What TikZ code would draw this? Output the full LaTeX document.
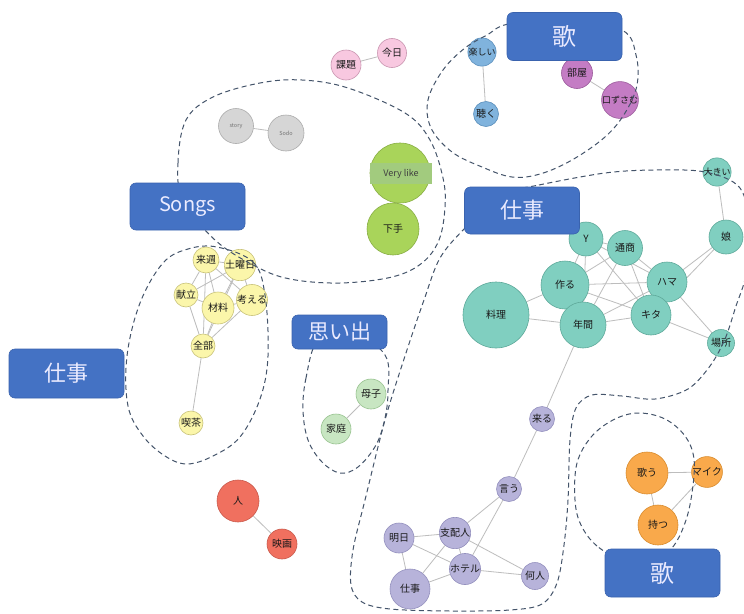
\documentclass[tikz,border=0pt]{standalone}
\usepackage{fontspec}
\setmainfont{Noto Sans CJK JP}
\definecolor{boxblue}{HTML}{4472C4}
\definecolor{boxline}{HTML}{3A63AE}
\definecolor{outc}{HTML}{44546A}
\definecolor{edgec}{HTML}{BDBDBD}
\definecolor{tlf}{HTML}{80CFC0}\definecolor{tld}{HTML}{5EA99A}
\definecolor{prf}{HTML}{B7B3DA}\definecolor{prd}{HTML}{9490BE}
\definecolor{orf}{HTML}{F9A94B}\definecolor{ord}{HTML}{D98C2E}
\definecolor{rdf}{HTML}{F0705F}\definecolor{rdd}{HTML}{C95A4C}
\definecolor{lgf}{HTML}{C8E6C2}\definecolor{lgd}{HTML}{98C390}
\definecolor{ylf}{HTML}{FBF6AA}\definecolor{yld}{HTML}{C9C37A}
\definecolor{pkf}{HTML}{F8C8E0}\definecolor{pkd}{HTML}{C995B0}
\definecolor{gyf}{HTML}{D6D6D6}\definecolor{gyd}{HTML}{ABABAB}
\definecolor{lbf}{HTML}{80B3DD}\definecolor{lbd}{HTML}{5B8FBC}
\definecolor{mgf}{HTML}{C47CC4}\definecolor{mgd}{HTML}{9B5A9B}
\definecolor{grf}{HTML}{A9D45A}\definecolor{grd}{HTML}{88AE44}
\definecolor{bandc}{HTML}{A2CB7E}
\pgfdeclarelayer{edgelayer}
\pgfsetlayers{edgelayer,main}
\begin{document}
\begin{tikzpicture}[x=1pt,y=-1pt,
  nd/.style={circle,draw,inner sep=0pt,line width=0.6pt,text=black!90,font=\fontsize{10}{12}\selectfont,minimum size=#1},
  ntl/.style={nd=#1,fill=tlf,draw=tld},
  npr/.style={nd=#1,fill=prf,draw=prd},
  nor/.style={nd=#1,fill=orf,draw=ord},
  nrd/.style={nd=#1,fill=rdf,draw=rdd},
  nlg/.style={nd=#1,fill=lgf,draw=lgd},
  nyl/.style={nd=#1,fill=ylf,draw=yld},
  npk/.style={nd=#1,fill=pkf,draw=pkd},
  ngy/.style={nd=#1,fill=gyf,draw=gyd,text=black!55,font=\fontsize{5.5}{6}\selectfont},
  nlb/.style={nd=#1,fill=lbf,draw=lbd},
  nmg/.style={nd=#1,fill=mgf,draw=mgd},
  ngr/.style={nd=#1,fill=grf,draw=grd},
  edge/.style={draw=edgec,line width=0.8pt},
  outl/.style={draw=outc,dash pattern=on 5pt off 3.5pt,line width=1pt},
  bluebox/.style={rectangle,rounded corners=6pt,fill=boxblue,draw=boxline,line width=0.6pt,text=white!92!blue,minimum width=115pt,minimum height=48pt,inner sep=0pt}
]
\useasboundingbox (0,0) rectangle (744,613);
\begin{pgfonlayer}{edgelayer}
\fill[white] (0,0) rectangle (744,613);
\end{pgfonlayer}

% ---------- nodes ----------
\node[npk=30pt] (kadai) at (346,65) {課題};
\node[npk=29pt] (kyou) at (392,53) {今日};
\node[ngy=35pt] (story) at (236,126) {story};
\node[ngy=36pt] (sodo) at (286,133) {Sodo};
\node[ngr=60pt] (vl) at (400,173) {};
\node[rectangle,fill=bandc,inner sep=0pt,minimum width=62pt,minimum height=21pt,text=black!75,font=\fontsize{9}{10}\selectfont] (vlband) at (401,173.5) {Very like};
\node[ngr=52pt] (heta) at (393,229) {下手};
\node[nlb=25pt,font=\fontsize{9}{10}\selectfont] (tanoshii) at (482,52) {楽しい};
\node[nlb=25pt] (kiku) at (486,114) {聴く};
\node[nmg=31pt] (heya) at (577,73) {部屋};
\node[nmg=35pt,font=\fontsize{9}{10}\selectfont] (kuchi) at (620,100) {口ずさむ};
\node[ntl=26pt,font=\fontsize{9}{10}\selectfont] (ooki) at (717,172) {大きい};
\node[ntl=34pt] (musume) at (726,237) {娘};
\node[ntl=34pt] (ty) at (586,239) {Y};
\node[ntl=35pt] (tsusho) at (625,248) {通商};
\node[ntl=48pt] (tsukuru) at (565,285) {作る};
\node[ntl=40pt] (hama) at (667,282) {ハマ};
\node[ntl=40pt] (kita) at (651,315) {キタ};
\node[ntl=46pt] (nenkan) at (583,325) {年間};
\node[ntl=66pt] (ryouri) at (496,315) {料理};
\node[ntl=27pt] (basho) at (721,343) {場所};
\node[npr=25pt] (kuru) at (542,419) {来る};
\node[npr=25pt] (iu) at (509,489) {言う};
\node[npr=30pt] (ashita) at (399,538) {明日};
\node[npr=27pt] (shihai) at (455,533) {支配人};
\node[npr=27pt] (hotel) at (465,569) {ホテル};
\node[npr=40pt] (shigoto) at (410,589) {仕事};
\node[npr=27pt] (nannin) at (535,576) {何人};
\node[nor=42pt] (utau) at (647,473) {歌う};
\node[nor=27pt] (mike) at (707,472) {マイク};
\node[nor=40pt] (motsu) at (658,525) {持つ};
\node[nrd=42pt] (hito) at (238,501) {人};
\node[nrd=30pt] (eiga) at (282,544) {映画};
\node[nlg=30pt] (boshi) at (371,394) {母子};
\node[nlg=30pt] (katei) at (336,429) {家庭};
\node[nyl=26pt] (raishu) at (206,260) {来週};
\node[nyl=26pt] (doyou) at (240,265) {土曜日};
\node[nyl=24pt] (kondate) at (186,295) {献立};
\node[nyl=32pt] (zairyo) at (218,308) {材料};
\node[nyl=26pt] (kangaeru) at (252,300) {考える};
\node[nyl=24pt] (zenbu) at (203,346) {全部};
\node[nyl=24pt] (kissa) at (191,423) {喫茶};

% ---------- edges (behind nodes) ----------
\begin{pgfonlayer}{edgelayer}
\foreach \a/\b in {kadai/kyou,story/sodo,vl/heta,tanoshii/kiku,heya/kuchi,
  ooki/musume,musume/hama,musume/kita,hama/basho,kita/basho,
  ty/tsukuru,ty/nenkan,ty/tsusho,ty/hama,ty/kita,
  tsusho/hama,tsusho/kita,tsusho/nenkan,tsusho/tsukuru,
  tsukuru/hama,tsukuru/kita,tsukuru/nenkan,tsukuru/ryouri,
  nenkan/ryouri,nenkan/kita,nenkan/hama,kita/hama,nenkan/kuru,
  kuru/iu,iu/shihai,iu/hotel,ashita/shihai,ashita/hotel,ashita/shigoto,
  shihai/hotel,shihai/shigoto,shihai/nannin,hotel/shigoto,hotel/nannin,
  utau/mike,utau/motsu,motsu/mike,hito/eiga,boshi/katei,
  raishu/doyou,raishu/kondate,raishu/zairyo,raishu/zenbu,raishu/kangaeru,
  doyou/kondate,doyou/zairyo,doyou/zenbu,doyou/kangaeru,
  kondate/zairyo,kondate/zenbu,zairyo/kangaeru,zairyo/zenbu,kangaeru/zenbu,
  zenbu/kissa}
  {\draw[edge] (\a) -- (\b);}
\end{pgfonlayer}

% ---------- dashed group outlines ----------
% Songs group
\draw[outl] plot[smooth cycle,tension=0.6] coordinates {(183,200) (178,163) (186,120) (213,97) (260,83) (302,80) (348,88) (405,113) (430,140) (443,178) (445,207) (439,240) (422,263) (392,277) (340,283) (290,279) (255,266) (215,240)};
% top 歌 group
\draw[outl] plot[smooth cycle,tension=0.6] coordinates {(565,16) (508,24) (487,35) (465,48) (443,70) (428,100) (431,128) (452,152) (482,167) (512,177) (540,174) (572,160) (605,137) (625,113) (637,85) (636,55) (622,30)};
% big 仕事 group
\draw[outl] plot[smooth cycle,tension=0.55] coordinates {(500,195) (539,185) (605,173) (655,170) (705,172) (740,188) (750,230) (746,275) (736,306) (725,339) (710,366) (688,389) (655,399) (622,396) (592,395) (576,408) (570,440) (568,500) (564,545) (557,583) (542,604) (510,610) (450,611) (390,609) (362,602) (351,585) (353,550) (365,500) (385,420) (405,356) (424,300) (440,258) (465,228)};
% 思い出 group
\draw[outl] plot[smooth cycle,tension=0.6] coordinates {(318,340) (306,378) (303,410) (308,440) (322,462) (340,473) (358,467) (376,445) (385,418) (388,390) (385,355) (350,330)};
% left 仕事 group
\draw[outl] plot[smooth cycle,tension=0.6] coordinates {(217,247) (253,262) (265,295) (268,356) (260,399) (240,437) (213,456) (187,464) (165,456) (143,436) (128,406) (127,356) (140,303) (163,263) (188,249)};
% bottom 歌 group
\draw[outl] plot[smooth cycle,tension=0.6] coordinates {(625,562) (597,546) (581,525) (575,500) (577,463) (592,436) (615,419) (639,413) (665,419) (685,436) (694,459) (692,493) (685,523) (672,548) (650,565)};

% ---------- label boxes ----------
\node[bluebox,font=\fontsize{24}{26}\selectfont] (utaTop) at (564.5,36.5) {歌};
\node[bluebox,minimum height=47pt,font=\fontsize{20}{22}\selectfont] (songs) at (187.5,206.5) {Songs};
\node[bluebox,minimum height=47pt,font=\fontsize{22}{24}\selectfont] (shigotoR) at (522,210.5) {仕事};
\node[bluebox,minimum height=49pt,font=\fontsize{22}{24}\selectfont] (shigotoL) at (66.5,373.5) {仕事};
\node[bluebox,minimum width=95pt,minimum height=34pt,font=\fontsize{21}{23}\selectfont] (omoide) at (339.5,332) {思い出};
\node[bluebox,minimum height=48pt,font=\fontsize{24}{26}\selectfont] (utaBot) at (662.5,573) {歌};

\end{tikzpicture}
\end{document}
